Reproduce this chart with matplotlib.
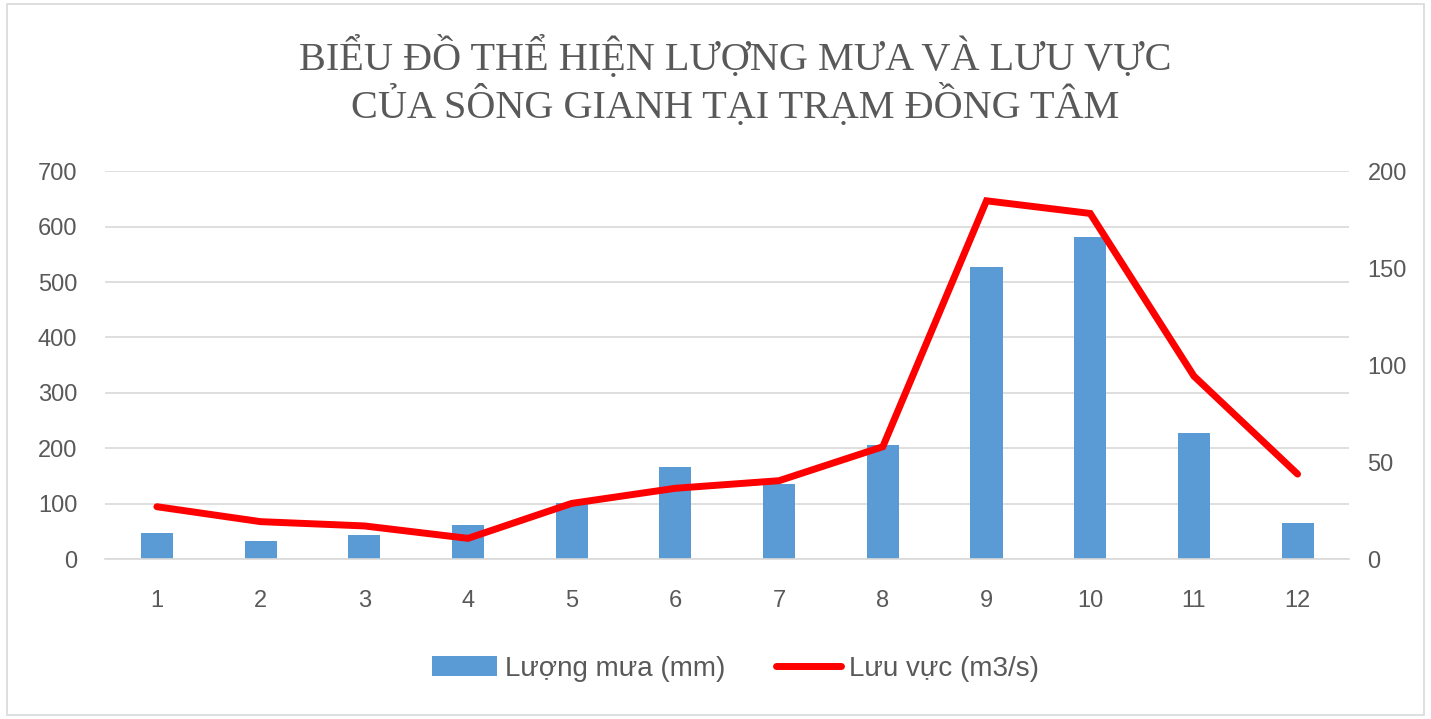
import matplotlib
matplotlib.use("Agg")
import matplotlib.pyplot as plt
from matplotlib.patches import Rectangle

months = ["1", "2", "3", "4", "5", "6", "7", "8", "9", "10", "11", "12"]
rainfall = [48, 33, 44, 62, 102, 167, 135, 207, 528, 582, 228, 66]
discharge = [27.1, 19.4, 17.2, 10.8, 28.8, 36.6, 40.5, 58.0, 184.7, 178.2, 94.4, 43.9]
left_ticks = [0, 100, 200, 300, 400, 500, 600, 700]
right_ticks = [0, 50, 100, 150, 200]
title = "BIỂU ĐỒ THỂ HIỆN LƯỢNG MƯA VÀ LƯU VỰC\nCỦA SÔNG GIANH TẠI TRẠM ĐỒNG TÂM"

gray = "#595959"
fig = plt.figure(figsize=(14.31, 7.19), dpi=100)
fig.patches.append(Rectangle((0.005, 0.005), 0.99, 0.99, transform=fig.transFigure,
                             fill=False, edgecolor="#d9d9d9", linewidth=1.2))
ax = fig.add_axes([0.0734, 0.2221, 0.8696, 0.5399])
x = list(range(len(months)))
bars = ax.bar(x, rainfall, width=0.31, color="#5b9bd5", label="Lượng mưa (mm)", zorder=2)
ax.set_ylim(0, 700)
ax.set_xlim(-0.5, len(months) - 0.5)
ax.set_yticks(left_ticks)
ax.set_xticks(x)
ax.set_xticklabels(months)
ax.grid(axis="y", color="#d9d9d9", linewidth=1.2, zorder=0)
ax.set_axisbelow(True)
for s in ["top", "right", "left"]:
    ax.spines[s].set_visible(False)
ax.spines["bottom"].set_color("#d9d9d9")
ax.spines["bottom"].set_linewidth(1.2)
ax.tick_params(axis="both", length=0, colors=gray, labelsize=17)
ax.tick_params(axis="y", pad=20)
ax.tick_params(axis="x", pad=22)
for lab in ax.get_yticklabels() + ax.get_xticklabels():
    lab.set_family("Liberation Sans")

ax2 = ax.twinx()
line, = ax2.plot(x, discharge, color="#ff0000", linewidth=5, label="Lưu vực (m3/s)",
                 solid_capstyle="round", solid_joinstyle="miter", zorder=3)
ax2.set_ylim(0, 200)
ax2.set_yticks(right_ticks)
for s in ["top", "right", "left", "bottom"]:
    ax2.spines[s].set_visible(False)
ax2.tick_params(axis="y", length=0, colors=gray, labelsize=17, pad=13)
for lab in ax2.get_yticklabels():
    lab.set_family("Liberation Sans")

fig.text(0.5135, 0.887, title, ha="center", va="center", fontsize=29,
         family="Liberation Serif", color=gray, linespacing=1.15)

leg = fig.legend(handles=[bars, line], loc="center", bbox_to_anchor=(0.514, 0.07),
                 ncol=2, frameon=False, handlelength=2.35,
                 columnspacing=1.8, handletextpad=0.3,
                 prop={"family": "Liberation Sans", "size": 20})
for t in leg.get_texts():
    t.set_color(gray)

fig.savefig("out.png", dpi=100)
